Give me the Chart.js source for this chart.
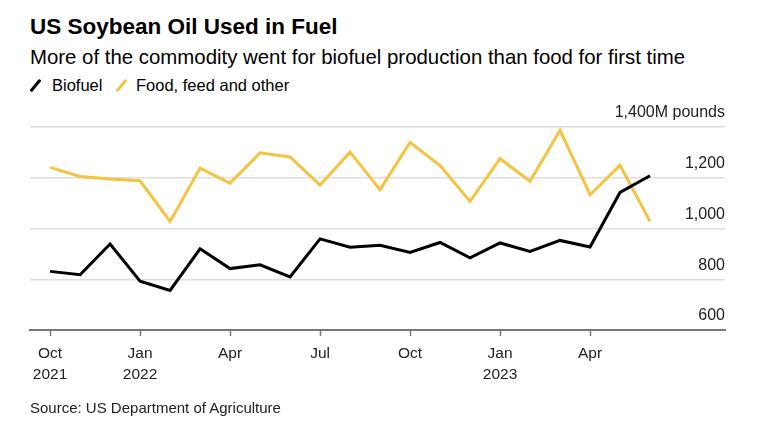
<!DOCTYPE html>
<html lang="en">
<head>
<meta charset="UTF-8">
<title>US Soybean Oil Used in Fuel</title>
<style>
  body { margin: 0; width: 768px; height: 434px; position: relative; background: #fff; overflow: hidden;
         font-family: "Liberation Sans", Arial, sans-serif; color: #000; }
  .txt { position: absolute; white-space: nowrap; }
  #title { left: 30px; top: 15px; font-size: 22.5px; line-height: 24px; font-weight: bold; }
  #subtitle { left: 30px; top: 46px; font-size: 20.4px; line-height: 22px; }
  .leg { top: 75px; font-size: 16.5px; line-height: 20px; }
  .key { position: absolute; top: 78px; width: 3px; height: 15px; border-radius: 1px; transform: rotate(40deg); }
  #source { left: 30px; top: 399px; font-size: 15px; line-height: 18px; color: #222; }
  canvas { position: absolute; left: 0; top: 0; }
</style>
<script src="https://cdn.jsdelivr.net/npm/chart.js"></script>
</head>
<body>
  <div id="title" class="txt">US Soybean Oil Used in Fuel</div>
  <div id="subtitle" class="txt">More of the commodity went for biofuel production than food for first time</div>
  <span class="key" style="left:34px; background:#000;"></span>
  <div class="txt leg" style="left:52px;">Biofuel</div>
  <span class="key" style="left:119.5px; background:#f5c342;"></span>
  <div class="txt leg" style="left:136px;">Food, feed and other</div>
  <canvas id="chart" width="768" height="434"></canvas>
  <div id="source" class="txt">Source: US Department of Agriculture</div>

<script>
// monthly, Oct 2021 - Jun 2023, million pounds
const months = ['2021-10', '2021-11', '2021-12', '2022-01', '2022-02', '2022-03', '2022-04',
                '2022-05', '2022-06', '2022-07', '2022-08', '2022-09', '2022-10', '2022-11',
                '2022-12', '2023-01', '2023-02', '2023-03', '2023-04', '2023-05', '2023-06'];
const biofuel = [831, 818, 939, 792, 756, 920, 842, 857, 809, 959, 926, 934, 906, 945,
                 884, 943, 910, 953, 927, 1142, 1208];
const foodFeedOther = [1241, 1205, 1195, 1188, 1028, 1238, 1179, 1298, 1282, 1171, 1301, 1153, 1339, 1248,
                       1107, 1275, 1186, 1387, 1133, 1249, 1028];
const xTickLabels = ['Oct 2021', 'Jan 2022', 'Apr', 'Jul', 'Oct', 'Jan 2023', 'Apr'];
const yTickValues = [600, 800, 1000, 1200, 1400];
const yUnit = 'M pounds';

const FONT = '"Liberation Sans", Arial, sans-serif';

// quarter-start months get a tick
const tickIdx = months.map((m, i) => ['01', '04', '07', '10'].includes(m.slice(5)) ? i : -1).filter(i => i >= 0);

function toPoints(arr) {
    return arr.map((v, i) => ({ x: i, y: v }));
}

new Chart(document.getElementById('chart'), {
    type: 'line',
    data: {
        datasets: [
            { label: 'Biofuel', data: toPoints(biofuel), borderColor: '#000', borderWidth: 3,
              pointRadius: 0, tension: 0 },
            { label: 'Food, feed and other', data: toPoints(foodFeedOther), borderColor: '#f5c342', borderWidth: 3,
              pointRadius: 0, tension: 0 }
        ]
    },
    options: {
        responsive: false,
        animation: false,
        devicePixelRatio: 1,
        layout: { padding: { top: 127, left: 30, right: 43, bottom: 0 } },
        plugins: { legend: { display: false }, tooltip: { enabled: false } },
        scales: {
            x: {
                type: 'linear',
                min: -0.67,
                max: 22.5,
                afterBuildTicks: s => { s.ticks = tickIdx.map(v => ({ value: v })); },
                afterFit: s => { s.height = 104; },
                grid: { drawOnChartArea: false, drawTicks: true, tickLength: 6, tickColor: '#777', tickWidth: 1.5 },
                border: { color: '#777', width: 2 },
                ticks: {
                    autoSkip: false, maxRotation: 0, padding: 8,
                    color: '#222', font: { family: FONT, size: 15.5, lineHeight: 1.3 },
                    callback: (v, i) => xTickLabels[i].split(' ')
                }
            },
            y: {
                position: 'right',
                min: 600,
                max: 1400,
                afterBuildTicks: s => { s.ticks = yTickValues.map(v => ({ value: v })); },
                afterFit: s => { s.width = 0; },
                grid: { color: '#dedede', lineWidth: 1.5, drawTicks: false },
                border: { display: false },
                ticks: {
                    mirror: true, padding: 0, labelOffset: -14,
                    color: '#222', font: { family: FONT, size: 16 },
                    callback: v => v.toLocaleString('en-US') + (v === 1400 ? yUnit : '')
                }
            }
        }
    }
});
</script>
</body>
</html>
